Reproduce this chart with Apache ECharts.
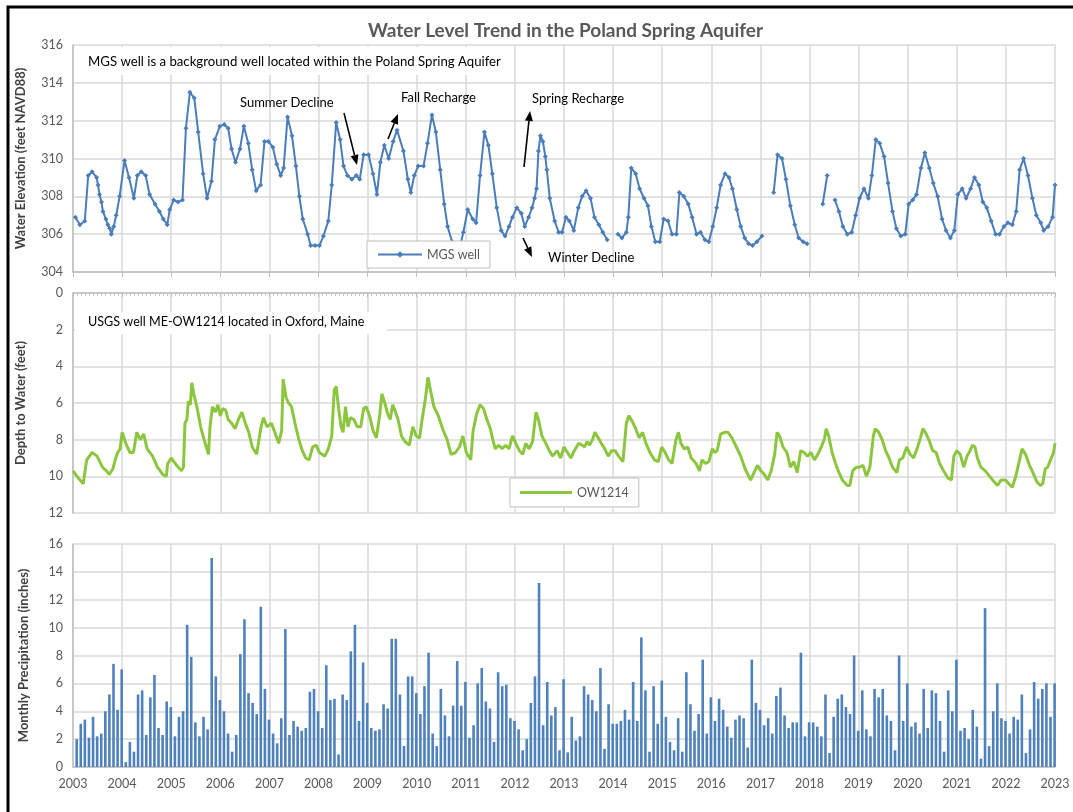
<!DOCTYPE html>
<html>
<head>
<meta charset="utf-8">
<title>Water Level Trend in the Poland Spring Aquifer</title>
<script src="https://cdn.jsdelivr.net/npm/echarts@6/dist/echarts.min.js"></script>
<style>
  html, body { margin: 0; padding: 0; background: #fff; }
  #main { width: 1073px; height: 812px; }
</style>
</head>
<body>
<div id="main"></div>
<script>
// MGS well water elevation (ft NAVD88); null = gap in record
var mgsYears = [
  2003.05, 2003.14, 2003.24, 2003.31, 2003.39, 2003.48, 2003.51, 2003.54, 2003.58, 2003.61, 2003.67, 2003.71, 2003.75, 2003.78, 2003.83, 2003.88, 2003.95,
  2004.05, 2004.14, 2004.24, 2004.31, 2004.39, 2004.48, 2004.56, 2004.67, 2004.76, 2004.84, 2004.92, 2004.97,
  2005.05, 2005.14, 2005.23, 2005.30, 2005.38, 2005.47, 2005.55, 2005.65, 2005.73, 2005.82, 2005.89, 2005.99,
  2006.08, 2006.16, 2006.23, 2006.31, 2006.40, 2006.48, 2006.57, 2006.65, 2006.73, 2006.82, 2006.90, 2006.98,
  2007.07, 2007.15, 2007.23, 2007.29, 2007.37, 2007.46, 2007.54, 2007.61, 2007.68, 2007.78, 2007.84, 2007.93,
  2008.02, 2008.10, 2008.20, 2008.27, 2008.36, 2008.44, 2008.51, 2008.59, 2008.68, 2008.77, 2008.84, 2008.92,
  2009.02, 2009.11, 2009.19, 2009.26, 2009.34, 2009.43, 2009.52, 2009.60, 2009.73, 2009.82, 2009.88, 2009.95,
  2010.03, 2010.14, 2010.22, 2010.31, 2010.39, 2010.48, 2010.56, 2010.63, 2010.72, 2010.80, 2010.88, 2010.95,
  2011.04, 2011.14, 2011.21, 2011.29, 2011.38, 2011.46, 2011.54, 2011.63, 2011.72, 2011.80, 2011.88, 2011.95,
  2012.04, 2012.13, 2012.20, 2012.28, 2012.35, 2012.40, 2012.44, 2012.48, 2012.52, 2012.57, 2012.62, 2012.65, 2012.71, 2012.81, 2012.89, 2012.96,
  2013.04, 2013.11, 2013.20, 2013.29, 2013.37, 2013.45, 2013.54, 2013.62, 2013.71, 2013.79, 2013.88, 2014.00,
  2014.10, 2014.18, 2014.27, 2014.31, 2014.37, 2014.46, 2014.54, 2014.63, 2014.71, 2014.78, 2014.86, 2014.95,
  2015.03, 2015.12, 2015.20, 2015.29, 2015.35, 2015.44, 2015.53, 2015.61, 2015.70, 2015.78, 2015.87, 2015.95,
  2016.03, 2016.11, 2016.19, 2016.28, 2016.36, 2016.43, 2016.52, 2016.60, 2016.68, 2016.76, 2016.84, 2016.93,
  2017.03, 2017.15, 2017.27, 2017.35, 2017.44, 2017.52, 2017.61, 2017.70, 2017.78, 2017.87, 2017.95, 2018.10,
  2018.27, 2018.36, 2018.44, 2018.52, 2018.60, 2018.68, 2018.77, 2018.86, 2018.94,
  2019.02, 2019.11, 2019.20, 2019.27, 2019.35, 2019.43, 2019.52, 2019.60, 2019.69, 2019.77, 2019.86, 2019.95,
  2020.02, 2020.10, 2020.18, 2020.27, 2020.35, 2020.44, 2020.52, 2020.61, 2020.70, 2020.78, 2020.87, 2020.95,
  2021.02, 2021.11, 2021.19, 2021.28, 2021.36, 2021.45, 2021.53, 2021.61, 2021.70, 2021.79, 2021.87, 2021.96,
  2022.04, 2022.13, 2022.21, 2022.28, 2022.36, 2022.45, 2022.54, 2022.62, 2022.71, 2022.77, 2022.86, 2022.95, 2023.00
];
var mgsLevels = [
  306.9, 306.5, 306.7, 309.1, 309.3, 309.0, 308.6, 308.1, 307.7, 307.2, 306.8, 306.5, 306.3, 306.0, 306.4, 307.0, 308.0,
  309.9, 309.0, 307.9, 309.1, 309.3, 309.1, 308.1, 307.6, 307.2, 306.8, 306.5, 307.3,
  307.8, 307.7, 307.8, 311.6, 313.5, 313.2, 311.4, 309.2, 307.9, 308.8, 311.0, 311.7,
  311.8, 311.6, 310.5, 309.8, 310.5, 311.7, 310.8, 309.4, 308.3, 308.6, 310.9, 310.9,
  310.6, 309.7, 309.1, 309.5, 312.2, 311.2, 309.6, 308.0, 306.8, 306.0, 305.4, 305.4,
  305.4, 305.9, 306.7, 308.6, 311.9, 311.0, 309.6, 309.1, 308.9, 309.1, 308.9, 310.2,
  310.2, 309.2, 308.1, 309.8, 310.7, 310.0, 310.9, 311.5, 310.4, 308.9, 308.2, 309.1,
  309.6, 309.6, 310.8, 312.3, 311.4, 309.4, 307.6, 306.4, 305.6, 304.8, 305.3, 306.1,
  307.3, 306.8, 306.6, 309.1, 311.4, 310.7, 309.2, 307.4, 306.2, 305.9, 306.4, 306.9,
  307.4, 307.1, 306.4, 306.9, 307.4, 307.9, 308.4, 310.4, 311.2, 310.9, 310.1, 309.4, 307.9, 306.7, 306.1, 306.1,
  306.9, 306.7, 306.2, 307.4, 308.0, 308.3, 307.9, 306.9, 306.5, 306.1, 305.7, null,
  306.0, 305.8, 306.1, 306.9, 309.5, 309.2, 308.4, 307.9, 307.5, 306.4, 305.6, 305.6,
  306.8, 306.7, 306.0, 306.0, 308.2, 308.0, 307.6, 306.9, 306.0, 306.1, 305.7, 305.6,
  306.4, 307.4, 308.6, 309.2, 309.0, 308.4, 307.3, 306.4, 305.8, 305.5, 305.4, 305.6,
  305.9, null, 308.2, 310.2, 310.0, 308.9, 307.5, 306.5, 305.8, 305.6, 305.5, null,
  307.6, 309.1, null, 307.8, 307.2, 306.4, 306.0, 306.1, 307.0,
  307.9, 308.4, 307.9, 309.1, 311.0, 310.8, 310.1, 308.7, 307.2, 306.3, 305.9, 306.0,
  307.6, 307.8, 308.1, 309.5, 310.3, 309.5, 308.7, 308.0, 306.8, 306.2, 305.8, 306.2,
  308.1, 308.4, 307.9, 308.4, 309.0, 308.6, 307.7, 307.4, 306.7, 306.0, 306.0, 306.4,
  306.6, 306.5, 307.2, 309.4, 310.0, 309.1, 307.9, 307.0, 306.6, 306.2, 306.4, 306.9, 308.6
];

// USGS ME-OW1214 depth to water (ft)
var owYears = [
  2003.00, 2003.11, 2003.21, 2003.25, 2003.28, 2003.39, 2003.49, 2003.60, 2003.68, 2003.74, 2003.81, 2003.86, 2003.91, 2003.96,
  2004.00, 2004.09, 2004.16, 2004.23, 2004.30, 2004.37, 2004.44, 2004.51, 2004.62, 2004.72, 2004.83, 2004.90, 2004.93,
  2005.00, 2005.11, 2005.21, 2005.25, 2005.28, 2005.32, 2005.35, 2005.39, 2005.42, 2005.46, 2005.53, 2005.60, 2005.67, 2005.76, 2005.79, 2005.84, 2005.90, 2005.95,
  2006.00, 2006.05, 2006.11, 2006.16, 2006.23, 2006.30, 2006.37, 2006.44, 2006.51, 2006.58, 2006.65, 2006.74, 2006.83, 2006.88, 2006.95,
  2007.04, 2007.11, 2007.19, 2007.25, 2007.28, 2007.34, 2007.39, 2007.45, 2007.52, 2007.60, 2007.67, 2007.74, 2007.81, 2007.88, 2007.95,
  2008.02, 2008.13, 2008.20, 2008.27, 2008.32, 2008.36, 2008.41, 2008.46, 2008.50, 2008.55, 2008.60, 2008.65, 2008.72, 2008.79, 2008.86, 2008.92, 2008.97,
  2009.04, 2009.11, 2009.18, 2009.25, 2009.29, 2009.34, 2009.41, 2009.46, 2009.51, 2009.57, 2009.62, 2009.69, 2009.76, 2009.85, 2009.92, 2009.99,
  2010.06, 2010.11, 2010.18, 2010.23, 2010.28, 2010.35, 2010.44, 2010.54, 2010.62, 2010.70, 2010.79, 2010.87, 2010.94,
  2011.01, 2011.10, 2011.15, 2011.22, 2011.29, 2011.36, 2011.43, 2011.50, 2011.55, 2011.60, 2011.67, 2011.74, 2011.81, 2011.88, 2011.95,
  2012.02, 2012.09, 2012.16, 2012.22, 2012.29, 2012.36, 2012.43, 2012.48, 2012.55, 2012.63, 2012.70, 2012.77, 2012.86, 2012.93,
  2013.00, 2013.07, 2013.14, 2013.21, 2013.30, 2013.37, 2013.42, 2013.47, 2013.52, 2013.58, 2013.63, 2013.66, 2013.76, 2013.83, 2013.90, 2013.97,
  2014.04, 2014.11, 2014.20, 2014.27, 2014.32, 2014.39, 2014.46, 2014.53, 2014.60, 2014.67, 2014.75, 2014.84, 2014.92, 2014.99,
  2015.06, 2015.13, 2015.20, 2015.28, 2015.33, 2015.38, 2015.45, 2015.52, 2015.59, 2015.69, 2015.76, 2015.81, 2015.88, 2015.95,
  2016.02, 2016.07, 2016.12, 2016.19, 2016.27, 2016.34, 2016.42, 2016.51, 2016.60, 2016.69, 2016.80, 2016.87, 2016.94,
  2017.01, 2017.08, 2017.15, 2017.22, 2017.29, 2017.34, 2017.39, 2017.46, 2017.54, 2017.61, 2017.68, 2017.75, 2017.82, 2017.89, 2017.96,
  2018.03, 2018.10, 2018.17, 2018.24, 2018.30, 2018.34, 2018.39, 2018.46, 2018.53, 2018.60, 2018.67, 2018.77, 2018.82, 2018.88, 2018.95,
  2019.02, 2019.09, 2019.16, 2019.23, 2019.30, 2019.34, 2019.41, 2019.48, 2019.55, 2019.62, 2019.69, 2019.78, 2019.83, 2019.90, 2019.98,
  2020.05, 2020.12, 2020.19, 2020.26, 2020.31, 2020.36, 2020.43, 2020.51, 2020.58, 2020.65, 2020.73, 2020.82, 2020.89, 2020.94,
  2021.00, 2021.07, 2021.14, 2021.21, 2021.27, 2021.32, 2021.37, 2021.42, 2021.49, 2021.58, 2021.67, 2021.76, 2021.83, 2021.90, 2021.99,
  2022.06, 2022.13, 2022.20, 2022.27, 2022.33, 2022.40, 2022.48, 2022.55, 2022.63, 2022.70, 2022.75, 2022.80, 2022.85, 2022.91, 2022.97, 2023.00
];
var owDepth = [
  9.7, 10.1, 10.4, 9.6, 9.1, 8.7, 8.9, 9.5, 9.7, 9.9, 9.6, 9.1, 8.7, 8.5,
  7.6, 8.3, 8.7, 8.7, 7.6, 8.0, 7.7, 8.5, 8.9, 9.5, 9.9, 10.0, 9.3,
  9.0, 9.4, 9.7, 9.5, 7.1, 6.9, 5.9, 6.1, 4.9, 5.5, 6.3, 7.3, 8.0, 8.8, 7.3, 6.2, 6.5, 6.1,
  6.7, 6.3, 6.4, 6.9, 7.1, 7.4, 6.9, 6.5, 7.1, 7.6, 8.4, 8.8, 7.3, 6.8, 7.3,
  7.1, 7.6, 8.2, 7.5, 4.7, 5.7, 6.0, 6.2, 7.1, 8.0, 8.6, 9.0, 9.1, 8.4, 8.3,
  8.7, 8.9, 8.5, 7.8, 5.3, 5.1, 6.3, 7.3, 7.6, 6.2, 7.3, 6.8, 6.9, 7.3, 7.3, 6.3, 6.2,
  6.7, 7.5, 7.9, 6.6, 5.5, 5.9, 6.6, 6.9, 6.1, 6.5, 6.9, 7.8, 8.1, 8.3, 7.3, 7.8,
  7.9, 6.9, 5.7, 4.6, 5.3, 6.2, 6.7, 7.5, 8.0, 8.8, 8.7, 8.4, 7.8,
  8.7, 9.1, 7.5, 6.6, 6.1, 6.3, 6.9, 7.4, 8.0, 8.5, 8.3, 8.5, 8.3, 8.5, 7.8,
  8.2, 8.6, 8.8, 8.2, 8.5, 8.1, 6.5, 6.9, 7.8, 8.2, 8.6, 8.9, 8.6, 9.0,
  8.4, 8.7, 9.0, 8.6, 8.2, 8.3, 8.4, 8.1, 8.3, 8.0, 7.6, 7.6, 8.2, 8.5, 8.9, 8.6,
  8.6, 8.9, 9.2, 7.1, 6.7, 7.0, 7.4, 7.9, 7.6, 8.2, 8.7, 9.1, 9.2, 8.4,
  8.7, 9.1, 9.3, 8.0, 7.6, 8.2, 8.5, 8.4, 9.0, 9.3, 9.7, 9.1, 9.3, 9.2,
  8.5, 8.7, 8.6, 7.7, 7.6, 7.6, 7.9, 8.4, 8.9, 9.6, 10.2, 9.8, 9.4,
  9.7, 9.9, 10.2, 9.7, 8.8, 7.6, 7.8, 8.4, 8.7, 9.5, 9.2, 9.8, 8.6, 8.7, 8.9,
  8.7, 9.1, 8.8, 8.4, 8.0, 7.4, 7.8, 8.7, 9.3, 9.8, 10.2, 10.5, 10.5, 9.7, 9.5,
  9.5, 9.4, 10.0, 9.5, 7.8, 7.4, 7.6, 8.0, 8.6, 9.0, 9.5, 9.8, 9.1, 9.0, 8.4,
  8.8, 9.0, 8.5, 7.9, 7.4, 7.6, 8.0, 8.6, 8.7, 9.3, 9.7, 10.1, 10.2, 8.9,
  8.6, 8.8, 9.5, 8.9, 8.6, 8.3, 8.4, 9.0, 9.5, 9.7, 10.0, 10.3, 10.5, 10.2, 10.2,
  10.4, 10.6, 10.0, 9.2, 8.5, 8.8, 9.4, 9.8, 10.3, 10.5, 10.4, 9.6, 9.5, 9.1, 8.7, 8.2
];

// monthly precipitation (inches), Jan 2003 .. Dec 2022
var precipStartYear = 2003;
var precipInches = [
  2.0, 3.1, 3.4, 2.1, 3.6, 2.2, 2.4, 4.0, 5.2, 7.4, 4.1, 7.0,
  0.35, 1.8, 1.1, 5.2, 5.5, 2.3, 5.0, 6.6, 2.8, 2.3, 4.7, 4.3,
  2.2, 3.6, 4.0, 10.2, 7.9, 3.2, 2.2, 3.6, 2.7, 15.0, 6.5, 4.8,
  4.0, 2.4, 1.1, 2.3, 8.1, 10.6, 5.3, 4.6, 3.8, 11.5, 5.6, 3.4,
  2.4, 1.7, 3.5, 9.9, 2.3, 3.3, 2.9, 2.6, 2.8, 5.4, 5.6, 4.0,
  2.8, 7.3, 4.8, 4.9, 0.9, 5.2, 4.8, 8.3, 10.2, 3.3, 7.5, 4.6,
  2.8, 2.6, 2.7, 4.5, 4.2, 9.2, 9.2, 5.2, 1.5, 6.5, 6.5, 5.3,
  3.8, 5.8, 8.2, 2.4, 1.5, 5.6, 3.7, 2.2, 4.4, 7.6, 4.4, 6.1,
  2.1, 3.0, 6.0, 7.1, 4.7, 4.2, 1.8, 6.8, 5.8, 5.9, 3.5, 3.3,
  2.7, 1.2, 2.0, 4.6, 6.5, 13.2, 3.0, 6.1, 3.7, 4.3, 1.2, 6.3,
  1.05, 3.6, 1.9, 2.2, 5.8, 5.2, 4.8, 4.0, 7.1, 1.3, 4.5, 3.1,
  3.1, 3.3, 4.1, 3.4, 6.1, 3.3, 9.3, 5.5, 1.1, 5.8, 3.1, 6.2,
  3.6, 1.8, 1.2, 3.5, 1.1, 6.8, 4.5, 2.6, 3.8, 7.7, 2.4, 5.0,
  3.3, 4.9, 4.1, 2.9, 2.1, 3.4, 3.7, 3.5, 1.4, 7.7, 4.6, 4.1,
  3.0, 3.5, 2.4, 5.1, 5.7, 3.7, 2.8, 3.2, 3.2, 8.2, 2.2, 3.2,
  3.2, 2.9, 2.2, 5.2, 1.0, 3.6, 4.9, 5.2, 4.3, 3.8, 8.0, 2.6,
  5.5, 2.7, 2.2, 5.6, 5.0, 5.6, 3.7, 3.3, 1.2, 8.0, 3.3, 6.0,
  2.9, 3.2, 2.4, 5.6, 2.8, 5.5, 5.3, 3.3, 1.1, 5.5, 4.0, 7.7,
  2.6, 2.8, 2.0, 4.1, 2.9, 0.6, 11.4, 1.5, 4.0, 6.0, 3.5, 3.3,
  2.4, 3.6, 3.4, 5.2, 1.0, 2.7, 6.1, 4.9, 5.6, 6.0, 3.6, 6.0
];

var yearMin = 2003, yearMax = 2023;

var blue = '#4a7dba';
var green = '#8cc63f';
var barBlue = '#4f81bd';
var gridColor = '#d9d9d9';
var labelColor = '#595959';
var font = 'Lato, "Liberation Sans", sans-serif';

var mgsData = mgsYears.map(function (y, i) {
  return [y, mgsLevels[i] === null ? '-' : mgsLevels[i]];
});
var owData = owYears.map(function (y, i) { return [y, owDepth[i]]; });
var precipData = precipInches.map(function (v, i) {
  return [precipStartYear + (i + 0.9) / 12, v];
});

function xAxis(grid, extra) {
  var ax = {
    type: 'value', gridIndex: grid, min: yearMin, max: yearMax, interval: 1,
    axisLabel: { show: false },
    axisLine: { onZero: false, lineStyle: { color: '#bfbfbf', width: 1.5 } },
    axisTick: { show: true, length: 5, lineStyle: { color: '#bfbfbf' } },
    splitLine: { show: true, lineStyle: { color: gridColor, width: 1.5 } }
  };
  for (var k in extra) ax[k] = extra[k];
  return ax;
}

function yAxis(grid, min, max, name, gap, extra) {
  var ax = {
    type: 'value', gridIndex: grid, min: min, max: max, interval: 2,
    name: name, nameLocation: 'middle', nameGap: gap, nameRotate: 90,
    nameTextStyle: { color: '#404040', fontSize: 13, fontWeight: 'bold', fontFamily: font },
    axisLabel: { color: labelColor, fontSize: 12.5, fontFamily: font, margin: 10 },
    axisLine: { show: true, lineStyle: { color: '#bfbfbf', width: 1.5 } },
    axisTick: { show: false },
    splitLine: { show: true, lineStyle: { color: gridColor, width: 1.5 } }
  };
  for (var k in extra) ax[k] = extra[k];
  return ax;
}

function arrow(x1, y1, x2, y2) {
  var a = Math.atan2(y2 - y1, x2 - x1);
  var L = 10, W = 4;
  var bx = x2 - L * Math.cos(a), by = y2 - L * Math.sin(a);
  return [
    { type: 'line', z: 100, shape: { x1: x1, y1: y1, x2: bx, y2: by }, style: { stroke: '#000', lineWidth: 1.6 } },
    { type: 'polygon', z: 100, shape: { points: [[x2, y2], [bx + W * Math.sin(a), by - W * Math.cos(a)], [bx - W * Math.sin(a), by + W * Math.cos(a)]] }, style: { fill: '#000' } }
  ];
}

function note(x, y, text, size) {
  return { type: 'text', z: 100, x: x, y: y, style: { text: text, fill: '#000', font: (size || 13) + 'px ' + font, textVerticalAlign: 'middle' } };
}

var graphics = [
  { type: 'rect', z: 1, shape: { x: 75, y: 47, width: 435, height: 28 }, style: { fill: '#fff' } },
  { type: 'rect', z: 1, shape: { x: 75, y: 312, width: 312, height: 22 }, style: { fill: '#fff' } },
  note(88, 62, 'MGS well is a background well located within the Poland Spring Aquifer', 13.2),
  note(88, 322, 'USGS well ME-OW1214 located in Oxford, Maine', 12.6),
  note(240, 103, 'Summer Decline'),
  note(401, 98, 'Fall Recharge'),
  note(532, 99, 'Spring Recharge'),
  note(548, 258, 'Winter Decline'),
  { type: 'rect', z: 200, shape: { x: 8, y: 7, width: 1200, height: 900 }, style: { fill: 'none', stroke: '#000', lineWidth: 3 } }
]
  .concat(arrow(344, 113, 357, 165))
  .concat(arrow(388, 139, 398, 114))
  .concat(arrow(524, 167, 530, 111))
  .concat(arrow(523, 238, 532, 257));

var chart = echarts.init(document.getElementById('main'), null, { renderer: 'canvas' });
chart.setOption({
  animation: false,
  backgroundColor: '#fff',
  title: {
    text: 'Water Level Trend in the Poland Spring Aquifer',
    left: 363, top: 16,
    textStyle: { color: labelColor, fontSize: 19, fontWeight: 'bold', fontFamily: font }
  },
  legend: [
    {
      data: ['MGS well'], left: 367, top: 241, padding: [7, 10],
      borderColor: '#bfbfbf', borderWidth: 1, backgroundColor: '#fff',
      itemWidth: 44, itemHeight: 8, itemGap: 4,
      textStyle: { color: labelColor, fontSize: 12.5, fontFamily: font }
    },
    {
      data: [{ name: 'OW1214', icon: 'rect' }], left: 510, top: 478, padding: [8, 10],
      borderColor: '#bfbfbf', borderWidth: 1, backgroundColor: '#fff',
      itemWidth: 52, itemHeight: 3,
      textStyle: { color: labelColor, fontSize: 12.5, fontFamily: font }
    }
  ],
  grid: [
    { left: 73, right: 18, top: 45, height: 227 },
    { left: 73, right: 18, top: 293, height: 220 },
    { left: 73, right: 18, top: 544, height: 223 }
  ],
  xAxis: [
    xAxis(0, {}),
    xAxis(1, {
      position: 'top',
      axisTick: { show: true, inside: true, length: 4, lineStyle: { color: '#bfbfbf' } },
      minorTick: { show: true, splitNumber: 12, length: 3, lineStyle: { color: '#c8c8c8' } }
    }),
    xAxis(2, {
      axisTick: { show: false },
      axisLabel: { show: true, color: labelColor, fontSize: 12.5, fontFamily: font, margin: 10,
        formatter: function (v) { return String(Math.round(v)); } }
    })
  ],
  yAxis: [
    yAxis(0, 304, 316, 'Water Elevation (feet NAVD88)', 46, {}),
    yAxis(1, 0, 12, 'Depth to Water (feet)', 46, { inverse: true }),
    yAxis(2, 0, 16, 'Monthly Precipitation (inches)', 43, {})
  ],
  series: [
    {
      name: 'MGS well', type: 'line', xAxisIndex: 0, yAxisIndex: 0,
      data: mgsData, connectNulls: false,
      symbol: 'diamond', symbolSize: 5, showAllSymbol: true,
      lineStyle: { color: blue, width: 2 }, itemStyle: { color: blue }
    },
    {
      name: 'OW1214', type: 'line', xAxisIndex: 1, yAxisIndex: 1,
      data: owData, symbol: 'none',
      lineStyle: { color: green, width: 3 }, itemStyle: { color: green }
    },
    {
      name: 'Precipitation', type: 'bar', xAxisIndex: 2, yAxisIndex: 2,
      data: precipData, barWidth: 2.6,
      itemStyle: { color: barBlue }
    }
  ],
  graphic: graphics
});
</script>
</body>
</html>
